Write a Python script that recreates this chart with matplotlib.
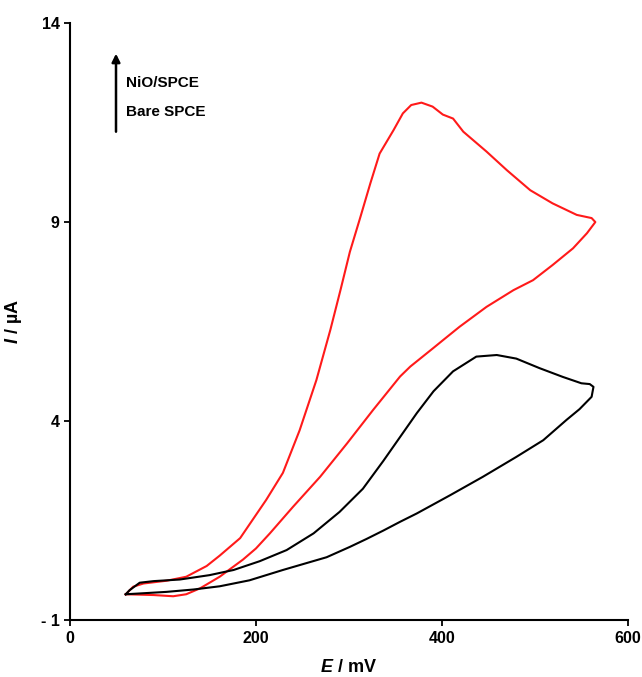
import matplotlib
matplotlib.use('Agg')
import matplotlib.pyplot as plt

plt.rcParams['font.family'] = ['Liberation Sans', 'DejaVu Sans']
plt.rcParams['font.weight'] = 'bold'
plt.rcParams['mathtext.fontset'] = 'custom'
plt.rcParams['mathtext.bfit'] = 'Liberation Sans:italic:bold'
plt.rcParams['mathtext.it'] = 'Liberation Sans:italic:bold'

# NiO/SPCE: forward scan then reverse scan (E in mV, I in uA)
nio_E = [60, 68, 79, 104, 125, 147, 161, 183, 190, 211, 229, 247, 265, 280, 291,
         301, 312, 323, 333, 348, 358, 367, 378, 390, 401, 412, 423, 448, 470,
         495, 519, 545, 561, 565,
         556, 541, 519, 498, 477, 448, 419, 401, 391, 366, 355, 326, 298,
         269, 240, 215, 200, 186, 161, 140, 125, 111, 90, 60]
nio_I = [-0.35, -0.16, -0.08, -0.01, 0.09, 0.36, 0.62, 1.06, 1.3, 2.02, 2.7, 3.77,
         5.03, 6.29, 7.3, 8.25, 9.1, 9.97, 10.72, 11.31, 11.73, 11.94, 12.0, 11.9,
         11.7, 11.6, 11.27, 10.77, 10.3, 9.8, 9.47, 9.18, 9.1, 9.0,
         8.72, 8.34, 7.92, 7.54, 7.29, 6.87, 6.37, 6.03, 5.84, 5.37, 5.12,
         4.28, 3.44, 2.6, 1.85, 1.18, 0.8, 0.52, 0.09, -0.2, -0.35, -0.40,
         -0.37, -0.35]

# Bare SPCE
bare_E = [60, 64, 75, 90, 118, 150, 176, 204, 233, 262, 290, 315, 337, 355, 373,
          391, 412, 437, 459, 480, 505, 530, 550, 559, 563,
          561, 548, 534, 509, 480, 444, 409, 373, 355, 337, 319, 301, 276, 229,
          193, 161, 133, 104, 75, 60]
bare_I = [-0.35, -0.25, -0.06, -0.02, 0.02, 0.13, 0.26, 0.48, 0.76, 1.18, 1.72,
          2.3, 3.0, 3.6, 4.2, 4.75, 5.25, 5.62, 5.66, 5.57, 5.33, 5.11, 4.95,
          4.93, 4.86,
          4.61, 4.3, 4.03, 3.52, 3.1, 2.6, 2.14, 1.68, 1.47, 1.25, 1.04, 0.84,
          0.58, 0.26, 0.0, -0.15, -0.23, -0.29, -0.33, -0.35]

xticks = [0, 200, 400, 600]
yticks = [-1, 4, 9, 14]
ytick_labels = ['- 1', '4', '9', '14']

fig = plt.figure(figsize=(6.42, 6.77), dpi=100)
ax = fig.add_axes([0.109, 0.084, 0.869, 0.882])

ax.plot(nio_E, nio_I, color='#ff1a1a', lw=1.5, solid_joinstyle='round')
ax.plot(bare_E, bare_I, color='black', lw=1.5, solid_joinstyle='round')

ax.set_xlim(0, 600)
ax.set_ylim(-1, 14)
ax.set_xticks(xticks)
ax.set_yticks(yticks)
ax.set_yticklabels(ytick_labels)
ax.tick_params(direction='out', length=4, width=1.3, labelsize=11.5)
for lab in ax.get_xticklabels() + ax.get_yticklabels():
    lab.set_fontweight('bold')

ax.spines['top'].set_visible(False)
ax.spines['right'].set_visible(False)
ax.spines['left'].set_linewidth(1.5)
ax.spines['bottom'].set_linewidth(1.5)

ax.set_xlabel(r'$\mathbfit{E}$ / mV', fontsize=13, fontweight='bold', labelpad=10)
ax.set_ylabel(r'$\mathbfit{I}$ / µA', fontsize=13, fontweight='bold', labelpad=12)

# arrow and labels
ax.annotate('', xy=(49.5, 13.3), xytext=(49.5, 11.2),
            arrowprops=dict(arrowstyle='-|>', color='black', lw=1.8,
                            mutation_scale=12))
ax.text(60, 12.49, 'NiO/SPCE', fontsize=11, fontweight='bold', va='center')
ax.text(60, 11.76, 'Bare SPCE', fontsize=11, fontweight='bold', va='center')

fig.savefig('out.png', dpi=100)
